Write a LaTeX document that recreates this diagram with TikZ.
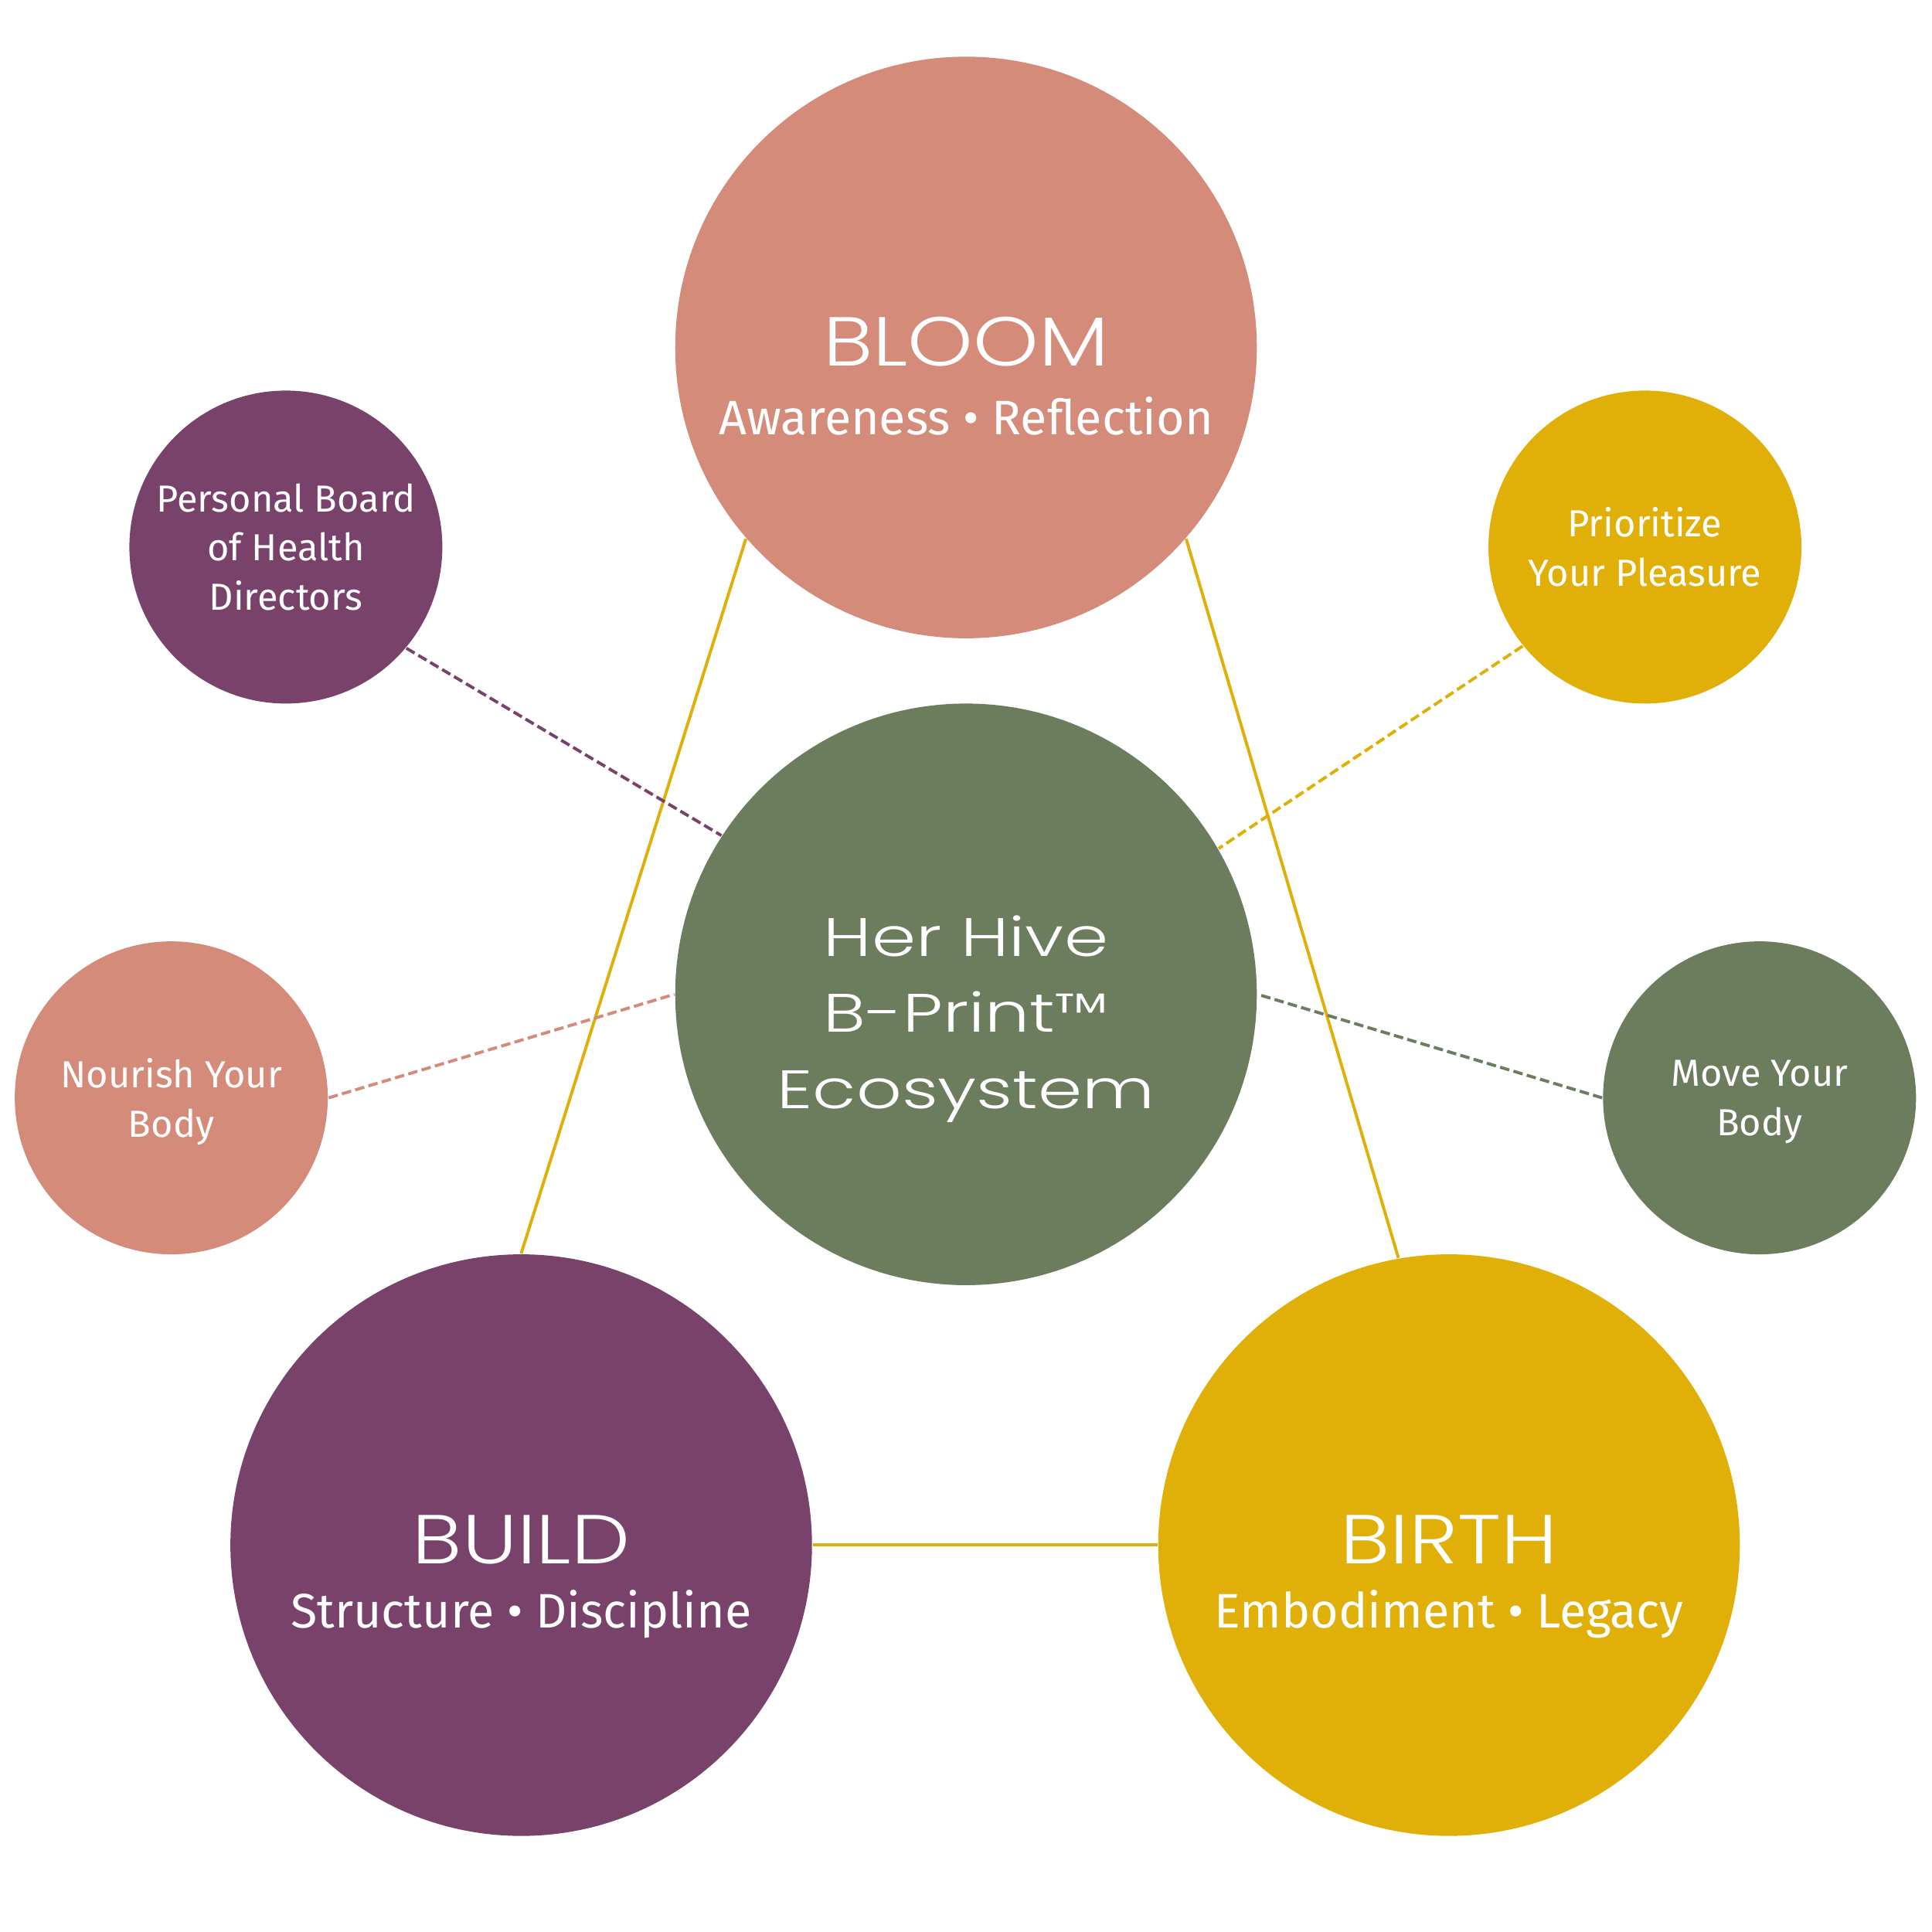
\documentclass[tikz,border=0pt]{standalone}
\usepackage{fontspec}
\setmainfont{Fira Sans}
\IfFontExistsTF{Poppins Light}{%
	\newfontfamily\widefont[FakeStretch=1.2]{Poppins Light}
	\newfontfamily\widerfont[FakeStretch=1.31]{Poppins Light}
}{%
	\newfontfamily\widefont[FakeStretch=1.2]{Poppins}
	\newfontfamily\widerfont[FakeStretch=1.31]{Poppins}
}
\usetikzlibrary{positioning}
\definecolor{rosec}{HTML}{D48B7A}
\definecolor{sagec}{HTML}{6B7D5D}
\definecolor{plumc}{HTML}{78426A}
\definecolor{honeyc}{HTML}{E0B008}

\tikzset{
	bigdisc/.style={circle,minimum size=4.72cm,inner sep=0pt},
	smalldisc/.style={circle,minimum size=2.54cm,inner sep=0pt,text=white,align=center,font=\fontsize{8.7}{11.4}\selectfont},
	titletext/.style={text=white,inner sep=0pt,font=\widefont\fontsize{16}{19}\selectfont},
	hivetext/.style={text=white,inner sep=0pt,align=center,font=\widerfont\fontsize{12.5}{17.6}\selectfont},
	subtext/.style={text=white,inner sep=0pt,font=\fontsize{11.2}{13}\selectfont},
	linkline/.style={honeyc,line width=0.7pt},
	dashlink/.style={line width=0.7pt,dash pattern=on 2.2pt off 1pt},
}

\begin{document}
\begin{tikzpicture}
				\path[use as bounding box,fill=white]
				(0,0) rectangle (15.68,-15.68);
				% the three phases and the hub
				\node[bigdisc,fill=rosec] (bloom) at (7.84,-2.82) {};
				\node[bigdisc,fill=sagec] (hive) at (7.84,-8.07) {};
				\node[bigdisc,fill=plumc] (build) at (4.23,-12.54) {};
				\node[bigdisc,fill=honeyc] (birth) at (11.76,-12.54) {};
				\node[titletext,anchor=base] (bloomtitle) at (7.84,-2.97) {BLOOM};
				\node[subtext,anchor=base] (bloomsub) at (7.84,-3.53) {Awareness • Reflection};
				\node[titletext,anchor=base] (buildtitle) at (4.23,-12.69) {BUILD};
				\node[subtext,anchor=base] (buildsub) at (4.23,-13.21) {Structure • Discipline};
				\node[titletext,anchor=base] (birthtitle) at (11.76,-12.69) {BIRTH};
				\node[subtext,anchor=base] (birthsub) at (11.76,-13.21) {Embodiment • Legacy};
				\node[hivetext] (hivetitle) at (7.84,-8.27) {Her Hive\\B-Print™\\Ecosystem};
				% the four practices
				\node[smalldisc,fill=plumc] (board) at (2.32,-4.44) {Personal Board\\of Health\\Directors};
				\node[smalldisc,fill=honeyc] (pleasure) at (13.35,-4.44) {Prioritize\\Your Pleasure};
				\node[smalldisc,fill=rosec,text depth=0pt] (nourish) at (1.39,-8.91) {Nourish Your\\Body};
				\node[smalldisc,fill=sagec,text depth=0pt] (move) at (14.28,-8.91) {Move Your\\Body};
				% connectors
				\draw[linkline] (bloom.221) -- (build.north);
				\draw[linkline] (bloom.319) -- (birth.100);
				\draw[linkline] (build.east) -- (birth.west);
				\draw[dashlink,plumc] (board.320) -- (hive.147);
				\draw[dashlink,honeyc] (pleasure.219) -- (hive.30);
				\draw[dashlink,rosec] (nourish.east) -- (hive.west);
				\draw[dashlink,sagec] (move.west) -- (hive.east);
			\end{tikzpicture}
\end{document}
